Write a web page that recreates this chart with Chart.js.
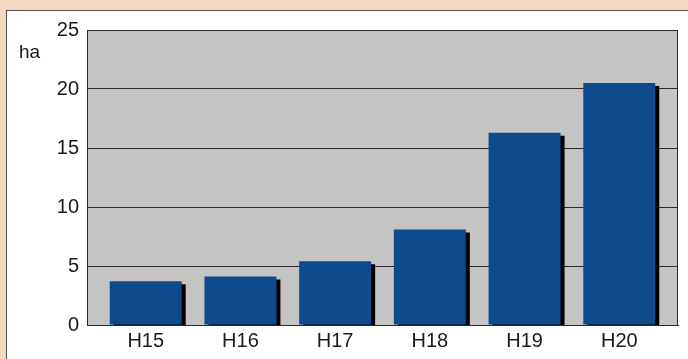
<!DOCTYPE html>
<html>
<head>
<meta charset="utf-8">
<script src="https://cdn.jsdelivr.net/npm/chart.js@4"></script>
<style>
html,body{margin:0;padding:0;background:#fff;}
#wrap{width:688px;height:359px;position:relative;}
</style>
</head>
<body>
<div id="wrap"><canvas id="c" width="688" height="359"></canvas></div>
<script>
const categories = ["H15", "H16", "H17", "H18", "H19", "H20"];
const areaHa = [3.7, 4.1, 5.4, 8.1, 16.3, 20.5];
const yTicks = [0, 5, 10, 15, 20, 25];
const unitLabel = "ha";

const FONT = "'Liberation Sans', Arial, sans-serif";

const framePlugin = {
  id: 'frame',
  beforeDraw(chart) {
    const ctx = chart.ctx, a = chart.chartArea;
    ctx.save();
    ctx.fillStyle = '#ffffff';
    ctx.fillRect(0, 0, chart.width, chart.height);
    ctx.fillStyle = '#f2d9c0';
    ctx.fillRect(0, 0, chart.width, 10);
    ctx.fillRect(0, 0, 6, chart.height);
    ctx.strokeStyle = '#555';
    ctx.lineWidth = 1;
    ctx.beginPath();
    ctx.moveTo(6, 10.5); ctx.lineTo(chart.width, 10.5);
    ctx.moveTo(6.5, 10); ctx.lineTo(6.5, chart.height);
    ctx.stroke();
    ctx.fillStyle = '#c4c4c4';
    ctx.fillRect(a.left, a.top, a.right - a.left, a.bottom - a.top);
    ctx.restore();
  },
  beforeDatasetDraw(chart) {
    const ctx = chart.ctx;
    ctx.save();
    ctx.shadowColor = '#000000';
    ctx.shadowOffsetX = 4;
    ctx.shadowOffsetY = 3;
    ctx.shadowBlur = 0;
  },
  afterDatasetDraw(chart) {
    chart.ctx.restore();
  },
  afterDraw(chart) {
    const ctx = chart.ctx, a = chart.chartArea;
    ctx.save();
    ctx.strokeStyle = '#2a2a2a';
    ctx.lineWidth = 1;
    ctx.strokeRect(Math.round(a.left) + 0.5, Math.round(a.top) + 0.5, Math.round(a.right - a.left) - 1, Math.round(a.bottom - a.top));
    ctx.fillStyle = '#1a1a1a';
    ctx.font = '19px ' + FONT;
    ctx.textAlign = 'left';
    ctx.textBaseline = 'alphabetic';
    ctx.fillText(unitLabel, 19, 58);
    ctx.restore();
  }
};

new Chart(document.getElementById('c'), {
  type: 'bar',
  data: {
    datasets: [{
      data: areaHa.map((v, i) => ({ x: i, y: v })),
      backgroundColor: '#0f4a8c',
      borderWidth: 0,
      categoryPercentage: 1,
      barPercentage: 0.76
    }]
  },
  options: {
    responsive: false,
    animation: false,
    devicePixelRatio: 1,
    layout: { padding: { left: 0, top: 30, right: 10, bottom: 0 } },
    plugins: { legend: { display: false }, tooltip: { enabled: false } },
    scales: {
      x: {
        type: 'linear',
        offset: false,
        min: -0.62,
        max: 5.62,
        afterBuildTicks: (s) => { s.ticks = categories.map((_, i) => ({ value: i })); },
        afterFit: (s) => { s.height = 34; },
        grid: { display: false, drawTicks: false, offset: false },
        border: { display: true, color: '#2a2a2a', width: 1 },
        ticks: {
          callback: (v) => categories[v],
          color: '#1a1a1a',
          font: { family: FONT, size: 20 },
          padding: 4,
          maxRotation: 0,
          autoSkip: false
        }
      },
      y: {
        min: 0,
        max: 25,
        afterBuildTicks: (s) => { s.ticks = yTicks.map(v => ({ value: v })); },
        afterFit: (s) => { s.width = 87; },
        grid: { color: '#2a2a2a', lineWidth: 1, drawTicks: false },
        border: { display: true, color: '#2a2a2a', width: 1 },
        ticks: {
          color: '#1a1a1a',
          font: { family: FONT, size: 20 },
          padding: 8
        }
      }
    }
  },
  plugins: [framePlugin]
});
</script>
</body>
</html>
